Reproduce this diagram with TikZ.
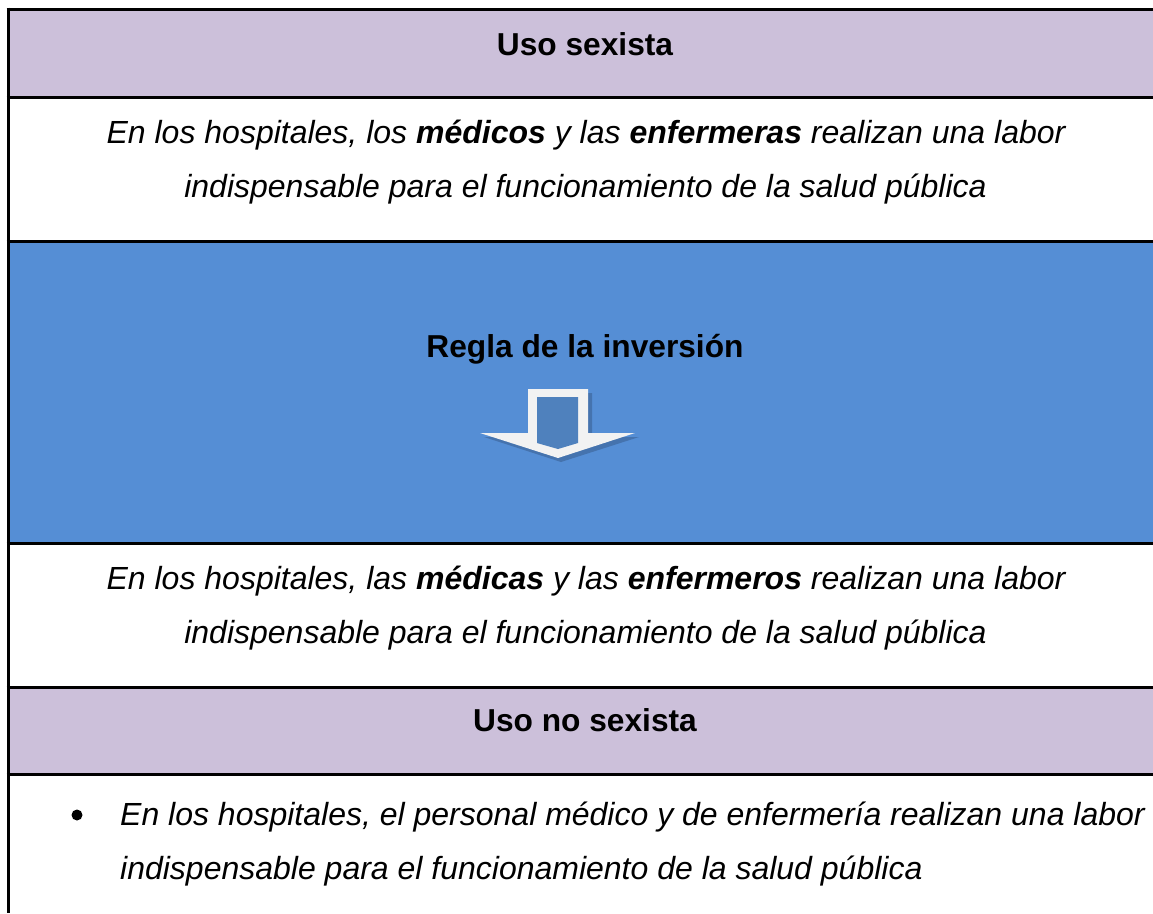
\documentclass[tikz,border=0pt]{standalone}
\usepackage{fontspec}
\setmainfont{Liberation Sans}
\definecolor{lav}{HTML}{CCC0DA}
\definecolor{bluebg}{HTML}{558ED5}
\definecolor{arrin}{HTML}{4F81BD}
\definecolor{arrwhite}{HTML}{F2F2F2}
\definecolor{arrshadow}{HTML}{4573AE}
\begin{document}
\begin{tikzpicture}[x=1pt,y=-1pt,
  rule/.style={line width=3pt,black},
  txt/.style={inner sep=0pt,anchor=base,font=\fontsize{32}{38}\selectfont\itshape},
  head/.style={inner sep=0pt,anchor=base,font=\fontsize{31.7}{38}\selectfont\bfseries}]
\useasboundingbox (0,0) rectangle (1153,913);
\fill[white] (0,0) rectangle (1153,913);
% bands
\fill[lav] (8,9) rectangle (1153,97);
\fill[bluebg] (8,241) rectangle (1153,543);
\fill[lav] (8,687) rectangle (1153,774);
% rules
\foreach \yy in {9,97,241,543,687,774}
  \draw[rule] (6.5,\yy) -- (1153,\yy);
\draw[rule] (8,7.5) -- (8,913);
% headings
\node[head] (h1) at (585,55) {Uso sexista};
\node[head] (h2) at (585,357) {Regla de la inversión};
\node[head] (h3) at (585,731) {Uso no sexista};
% text block 1
\node[txt] (a1) at (586,143) {En los hospitales, los \textbf{médicos} y las \textbf{enfermeras} realizan una labor};
\node[txt] (a2) at (585.5,197) {indispensable para el funcionamiento de la salud pública};
% text block 2
\node[txt] (b1) at (586,589) {En los hospitales, las \textbf{médicas} y las \textbf{enfermeros} realizan una labor};
\node[txt] (b2) at (585.5,643) {indispensable para el funcionamiento de la salud pública};
% bullet block
\fill (77,815) circle (5.5);
\node[txt,anchor=base west] (c1) at (120,825) {En los hospitales, el personal médico y de enfermería realizan una labor};
\node[txt,anchor=base west] (c2) at (120,879) {indispensable para el funcionamiento de la salud pública};
% arrow
\fill[arrshadow] (531,393) -- (592,393) -- (592,437) -- (639,437) -- (561,462) -- (484,437) -- (531,437) -- cycle;
\fill[arrwhite] (528,389) -- (588,389) -- (588,433) -- (635,433) -- (558,458) -- (480,433) -- (528,433) -- cycle;
\fill[arrin] (537,397) -- (578,397) -- (578,443) -- (558,449) -- (537,443) -- cycle;
\end{tikzpicture}
\end{document}
